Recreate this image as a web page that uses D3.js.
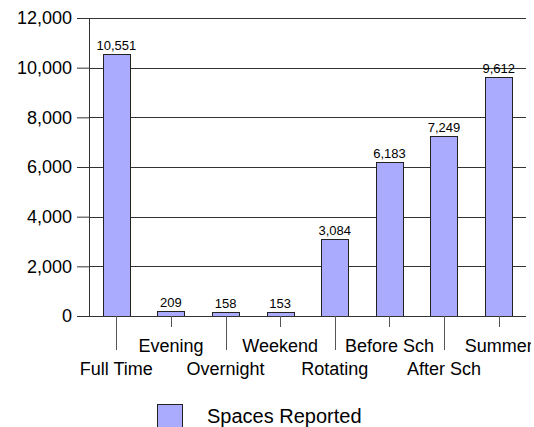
<!DOCTYPE html>
<html><head>
<meta charset="utf-8">
<script src="https://d3js.org/d3.v7.min.js"></script>
<style>
  body { margin: 0; background: #fff; }
  svg text { font-family: "Liberation Sans", Arial, sans-serif; fill: #000; }
</style>
</head>
<body>
<div id="container"></div>
<script>
// chart data
const categories = ["Full Time", "Evening", "Overnight", "Weekend", "Rotating", "Before Sch", "After Sch", "Summer"];
const spaces = [10551, 209, 158, 153, 3084, 6183, 7249, 9612];
const yTicks = [0, 2000, 4000, 6000, 8000, 10000, 12000];
const seriesName = "Spaces Reported";

const width = 534, height = 427;
const margin = { top: 18, right: 8, bottom: 111, left: 89 };
const chartWidth = width - margin.left - margin.right;
const chartHeight = height - margin.top - margin.bottom;

const svg = d3.select("#container").append("svg")
              .attr("width", width)
              .attr("height", height);

// the original cuts off the last label at the right edge
svg.append("clipPath").attr("id", "clip")
   .append("rect").attr("x", 0).attr("y", 0).attr("width", 531).attr("height", height);

const chart = svg.append("g").attr("transform", "translate(" + margin.left + "," + margin.top + ")");

const xScale = d3.scaleBand().domain(categories).range([0, chartWidth]).paddingInner(0.5).paddingOuter(0.25);
const yScale = d3.scaleLinear().domain([0, 12000]).range([chartHeight, 0]);

// gridlines
chart.selectAll("line.grid").data(yTicks.filter(d => d > 0))
     .join("line").attr("class", "grid")
     .attr("x1", 0).attr("x2", chartWidth)
     .attr("y1", d => Math.round(yScale(d)) + 0.5)
     .attr("y2", d => Math.round(yScale(d)) + 0.5)
     .attr("stroke", "#333").attr("stroke-width", 1);

// y axis
const yAxis = d3.axisLeft(yScale).tickValues(yTicks).tickSize(12).tickPadding(5)
                .tickFormat(d3.format(","));
const yAxisArea = chart.append("g").call(yAxis);
yAxisArea.select(".domain").remove();
yAxisArea.selectAll(".tick line").attr("stroke", "#333");
yAxisArea.selectAll(".tick text").attr("font-size", 18).attr("font-family", "Liberation Sans, Arial, sans-serif").attr("fill", "#000");
chart.append("line").attr("x1", 0.5).attr("x2", 0.5).attr("y1", 0).attr("y2", chartHeight)
     .attr("stroke", "#333");

// bars
chart.selectAll("rect.bar").data(spaces)
     .join("rect").attr("class", "bar")
     .attr("x", (d, i) => Math.round(xScale(categories[i])) + 0.5)
     .attr("width", Math.round(xScale.bandwidth()))
     .attr("y", d => Math.round(yScale(d)) + 0.5)
     .attr("height", d => chartHeight - Math.round(yScale(d)))
     .attr("fill", "#aaaaff")
     .attr("stroke", "#222")
     .attr("stroke-width", 1);

// baseline
chart.append("line").attr("x1", 0).attr("x2", chartWidth)
     .attr("y1", chartHeight + 0.5).attr("y2", chartHeight + 0.5)
     .attr("stroke", "#333");

// value labels
chart.selectAll("text.value").data(spaces)
     .join("text").attr("class", "value")
     .attr("x", (d, i) => xScale(categories[i]) + xScale.bandwidth() / 2)
     .attr("y", d => yScale(d) - 4)
     .attr("text-anchor", "middle")
     .attr("font-size", 13)
     .text(d => d3.format(",")(d));

// category ticks, staggered
const cx = (c) => Math.round(xScale(c) + xScale.bandwidth() / 2) + 0.5;
chart.selectAll("line.xtick").data(categories)
     .join("line").attr("class", "xtick")
     .attr("x1", cx).attr("x2", cx)
     .attr("y1", chartHeight).attr("y2", (d, i) => chartHeight + (i % 2 === 0 ? 34 : 11))
     .attr("stroke", "#555");
const labels = svg.append("g").attr("clip-path", "url(#clip)")
                  .append("g").attr("transform", "translate(" + margin.left + "," + margin.top + ")");
labels.selectAll("text.xlabel").data(categories)
      .join("text").attr("class", "xlabel")
      .attr("x", d => xScale(d) + xScale.bandwidth() / 2)
      .attr("y", (d, i) => chartHeight + (i % 2 === 0 ? 59 : 36))
      .attr("text-anchor", "middle")
      .attr("font-size", 18)
      .text(d => d);

// legend
const legend = svg.append("g").attr("transform", "translate(157,404)");
legend.append("rect").attr("x", 0.5).attr("y", 0.5).attr("width", 25).attr("height", 24)
      .attr("fill", "#aaaaff").attr("stroke", "#222");
legend.append("text").attr("x", 50).attr("y", 19).attr("font-size", 20).text(seriesName);
</script>
</body>
</html>
